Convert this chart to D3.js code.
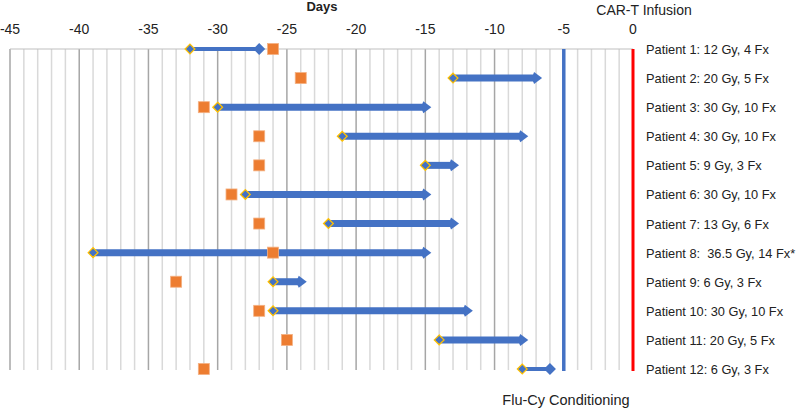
<!DOCTYPE html>
<html>
<head>
<meta charset="utf-8">
<script src="https://cdn.jsdelivr.net/npm/d3@7"></script>
<style>
  body { margin: 0; background: #fff; }
  text { font-family: "Liberation Sans", Arial, sans-serif; fill: #222; white-space: pre; }
</style>
</head>
<body>
<svg id="chart" width="798" height="409"></svg>
<script>
// patient rows, top to bottom
var patients = ["Patient 1: 12 Gy, 4 Fx", "Patient 2: 20 Gy, 5 Fx", "Patient 3: 30 Gy, 10 Fx",
  "Patient 4: 30 Gy, 10 Fx", "Patient 5: 9 Gy, 3 Fx", "Patient 6: 30 Gy, 10 Fx",
  "Patient 7: 13 Gy, 6 Fx", "Patient 8:  36.5 Gy, 14 Fx*", "Patient 9: 6 Gy, 3 Fx",
  "Patient 10: 30 Gy, 10 Fx", "Patient 11: 20 Gy, 5 Fx", "Patient 12: 6 Gy, 3 Fx"];
var rtStart = [-32, -13, -30, -21, -15, -28, -22, -39, -26, -26, -14, -8];  // radiation start (day)
var rtEnd   = [-27, -7, -15, -8, -13, -15, -13, -15, -24, -12, -8, -6];     // radiation end (day)
var apheresis = [-26, -24, -31, -27, -27, -29, -27, -26, -33, -27, -25, -31]; // orange squares
var ticks = [-45, -40, -35, -30, -25, -20, -15, -10, -5, 0];
var conditioningDay = -5;
var infusionDay = 0;

var blue = '#4472C4', orange = '#ED7D31', gold = '#FFC000';

var svg = d3.select("#chart");

var x = d3.scaleLinear().domain([-45, 0]).range([10, 633]);
var y = d3.scalePoint().domain(patients).range([49, 369]);

var yTop = y(patients[0]), yBottom = y(patients[patients.length - 1]);

// grid: minor every day, major every 5 days
var days = d3.range(-45, 1);
svg.append("g").selectAll("line")
  .data(days)
  .join("line")
  .attr("x1", function(d) { return x(d); })
  .attr("x2", function(d) { return x(d); })
  .attr("y1", yTop)
  .attr("y2", yBottom + 1)
  .attr("stroke", function(d) { return d % 5 == 0 ? '#A6A6A6' : '#D9D9D9'; })
  .attr("stroke-width", 1.5);

svg.append("line")
  .attr("x1", x(-45)).attr("x2", x(0))
  .attr("y1", yTop).attr("y2", yTop)
  .attr("stroke", '#BFBFBF').attr("stroke-width", 1);

// top axis labels
svg.append("g").selectAll("text")
  .data(ticks)
  .join("text")
  .attr("x", function(d) { return x(d); })
  .attr("y", 34)
  .attr("text-anchor", "middle")
  .style("font-size", "14px")
  .text(function(d) { return d; });

svg.append("text")
  .attr("x", 322).attr("y", 11)
  .attr("text-anchor", "middle")
  .style("font-size", "13px").style("font-weight", "bold")
  .text("Days");

// conditioning and infusion lines
svg.append("line")
  .attr("x1", x(conditioningDay)).attr("x2", x(conditioningDay))
  .attr("y1", yTop).attr("y2", yBottom + 2)
  .attr("stroke", blue).attr("stroke-width", 3.5);

svg.append("line")
  .attr("x1", x(infusionDay)).attr("x2", x(infusionDay))
  .attr("y1", yTop).attr("y2", yBottom + 2)
  .attr("stroke", '#FF0000').attr("stroke-width", 3);

svg.append("text")
  .attr("x", 644).attr("y", 15)
  .attr("text-anchor", "middle")
  .style("font-size", "14px")
  .text("CAR-T Infusion");

svg.append("text")
  .attr("x", 566).attr("y", 405)
  .attr("text-anchor", "middle")
  .style("font-size", "14.5px")
  .text("Flu-Cy Conditioning");

// radiation bars
var thin = function(i) { return i == 0 || i == patients.length - 1; };

var bars = svg.append("g").selectAll("g")
  .data(patients)
  .join("g");

bars.append("line")
  .attr("x1", function(d, i) { return x(rtStart[i]); })
  .attr("x2", function(d, i) { return x(rtEnd[i]) - 2; })
  .attr("y1", function(d) { return y(d); })
  .attr("y2", function(d) { return y(d); })
  .attr("stroke", blue)
  .attr("stroke-width", function(d, i) { return thin(i) ? 4 : 7; });

// end heads
bars.append("path")
  .attr("d", function(d, i) {
    var ex = x(rtEnd[i]), ey = y(d);
    if (thin(i)) {
      return "M" + (ex - 6) + "," + ey + "L" + ex + "," + (ey - 6) + "L" + (ex + 6) + "," + ey +
        "L" + ex + "," + (ey + 6) + "Z";
    }
    return "M" + (ex - 3) + "," + (ey - 3.5) + "L" + (ex - 2) + "," + (ey - 6) + "L" + (ex + 6) + "," + ey +
      "L" + (ex - 2) + "," + (ey + 6) + "L" + (ex - 3) + "," + (ey + 3.5) + "Z";
  })
  .attr("fill", blue);

// start diamonds
bars.append("path")
  .attr("d", d3.symbol().type(d3.symbolDiamond2).size(60))
  .attr("transform", function(d, i) { return "translate(" + x(rtStart[i]) + "," + y(d) + ")"; })
  .attr("fill", blue)
  .attr("stroke", gold)
  .attr("stroke-width", 1.3);

// apheresis squares
svg.append("g").selectAll("rect")
  .data(patients)
  .join("rect")
  .attr("x", function(d, i) { return x(apheresis[i]) - 5.5; })
  .attr("y", function(d) { return y(d) - 5.5; })
  .attr("width", 11)
  .attr("height", 11)
  .attr("fill", orange)
  .attr("stroke", '#F4B183')
  .attr("stroke-width", 0.8);

// patient labels
svg.append("g").selectAll("text")
  .data(patients)
  .join("text")
  .attr("x", 646)
  .attr("y", function(d) { return y(d) + 5; })
  .style("font-size", "12.8px")
  .text(function(d) { return d; });
</script>
</body>
</html>
